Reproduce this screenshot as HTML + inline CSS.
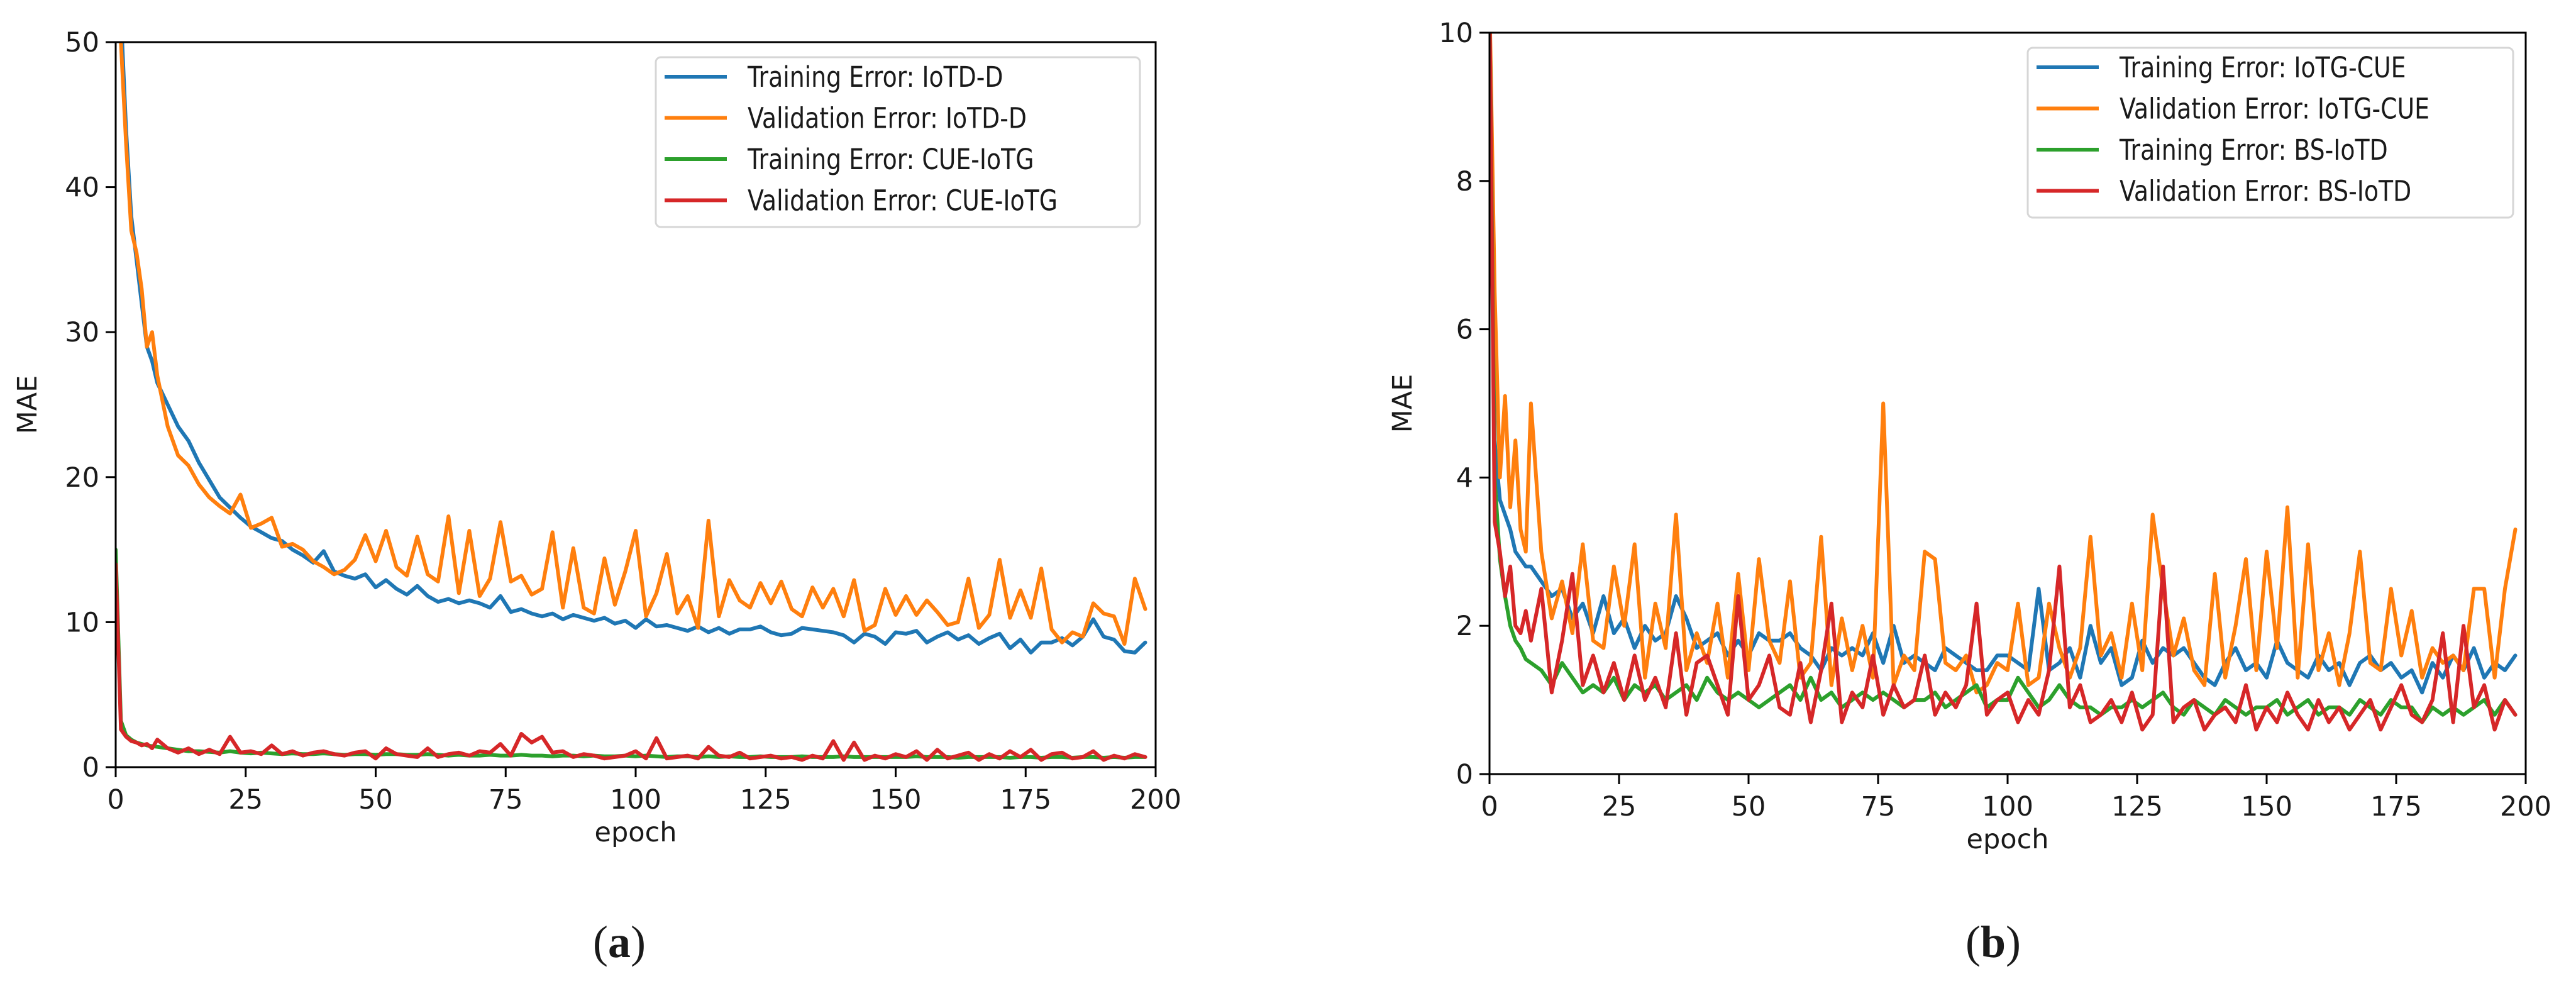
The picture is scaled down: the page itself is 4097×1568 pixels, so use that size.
<!DOCTYPE html>
<html><head><meta charset="utf-8">
<style>
html,body{margin:0;padding:0;background:#fff;}
svg{display:block;}
text{font-family:"DejaVu Sans","Liberation Sans",sans-serif;fill:#1a1a1a;}
.cap{font-family:"Liberation Serif","DejaVu Serif",serif;}
</style></head>
<body>
<svg id="root" width="4097" height="1568" viewBox="0 0 4097 1568" xmlns="http://www.w3.org/2000/svg">
<rect width="4097" height="1568" fill="#fff"/>
<text class="cap" x="985" y="1522" font-size="72" text-anchor="middle">(<tspan font-weight="bold">a</tspan>)</text>
<text class="cap" x="3170" y="1522" font-size="72" text-anchor="middle">(<tspan font-weight="bold">b</tspan>)</text>
</svg>
<script>
// shared epoch categories
const epochs=[0,1,2,3,4,5,6,7,8];
for(let e=10;e<200;e+=2) epochs.push(e);
const xTicks=[0,25,50,75,100,125,150,175,200];
const yTicksA=[0,10,20,30,40,50];
const yTicksB=[0,2,4,6,8,10];

// plot (a)
const aTrainD=[62,52,44,38,35,32,29,28,26.5,
25,23.5,22.5,21,19.8,18.6,17.9,17.2,16.6,16.2,
15.8,15.6,15,14.6,14.1,14.9,13.5,13.2,13.0,13.3,
12.4,12.9,12.3,11.9,12.5,11.8,11.4,11.6,11.3,11.5,
11.3,11.0,11.8,10.7,10.9,10.6,10.4,10.6,10.2,10.5,
10.3,10.1,10.3,9.9,10.1,9.6,10.2,9.7,9.8,9.6,
9.4,9.7,9.3,9.6,9.2,9.5,9.5,9.7,9.3,9.1,
9.2,9.6,9.5,9.4,9.3,9.1,8.6,9.2,9.0,8.5,
9.3,9.2,9.4,8.6,9.0,9.3,8.8,9.1,8.5,8.9,
9.2,8.2,8.8,7.9,8.6,8.6,8.9,8.4,9.0,10.2,
9.0,8.8,8.0,7.9,8.6];
const aValD=[60,50,43,37,35.5,33,29,30,27,
23.5,21.5,20.8,19.5,18.6,18.0,17.5,18.8,16.5,16.8,
17.2,15.2,15.4,15.0,14.2,13.8,13.3,13.6,14.3,16.0,
14.2,16.3,13.8,13.2,15.9,13.3,12.8,17.3,12.0,16.3,
11.8,13.0,16.9,12.8,13.2,11.9,12.3,16.2,11.0,15.1,
11.0,10.6,14.4,11.2,13.5,16.3,10.4,12.0,14.7,10.6,
11.8,9.6,17.0,10.4,12.9,11.5,11.0,12.7,11.3,12.8,
10.9,10.4,12.4,11.0,12.3,10.4,12.9,9.4,9.8,12.3,
10.5,11.8,10.5,11.5,10.7,9.8,10.0,13.0,9.6,10.5,
14.3,10.3,12.2,10.3,13.7,9.5,8.6,9.3,9.0,11.3,
10.6,10.4,8.5,13.0,10.9];
const aTrainG=[15,3.2,2.2,1.9,1.7,1.6,1.5,1.45,1.4,
1.3,1.2,1.1,1.1,1.05,1.0,1.1,1.0,0.95,1.0,
0.95,0.9,0.95,0.9,0.9,0.95,0.9,0.85,0.9,0.9,
0.85,0.9,0.9,0.85,0.85,0.9,0.85,0.8,0.85,0.8,
0.8,0.85,0.8,0.8,0.85,0.8,0.8,0.75,0.8,0.8,
0.75,0.8,0.75,0.75,0.8,0.75,0.8,0.75,0.7,0.75,
0.75,0.7,0.75,0.7,0.75,0.7,0.7,0.75,0.7,0.7,
0.7,0.75,0.7,0.7,0.7,0.75,0.7,0.7,0.7,0.7,
0.7,0.7,0.75,0.7,0.7,0.7,0.65,0.7,0.7,0.7,
0.7,0.65,0.7,0.7,0.65,0.7,0.7,0.65,0.7,0.7,
0.65,0.7,0.65,0.7,0.7];
const aValG=[14,2.6,2.1,1.8,1.7,1.5,1.6,1.3,1.9,
1.3,1.0,1.3,0.9,1.2,0.9,2.1,1.0,1.1,0.9,
1.5,0.9,1.1,0.8,1.0,1.1,0.9,0.8,1.0,1.1,
0.6,1.3,0.9,0.8,0.7,1.3,0.7,0.9,1.0,0.8,
1.1,1.0,1.6,0.8,2.3,1.7,2.1,1.0,1.1,0.7,
0.9,0.8,0.6,0.7,0.8,1.1,0.6,2.0,0.6,0.7,
0.8,0.6,1.4,0.8,0.7,1.0,0.6,0.7,0.8,0.6,
0.7,0.5,0.8,0.6,1.8,0.5,1.7,0.5,0.8,0.6,
0.9,0.7,1.1,0.5,1.2,0.6,0.8,1.0,0.5,0.9,
0.6,1.1,0.7,1.2,0.5,0.9,1.0,0.6,0.7,1.1,
0.5,0.8,0.6,0.9,0.7];

// plot (b)
const bTrainC=[10.5,4.5,3.7,3.5,3.3,3.0,2.9,2.8,2.8,
2.6,2.4,2.5,2.1,2.3,1.9,2.4,1.9,2.1,1.7,
2.0,1.8,1.9,2.4,2.1,1.7,1.8,1.9,1.6,1.8,
1.6,1.9,1.8,1.8,1.9,1.7,1.6,1.4,1.7,1.6,
1.7,1.6,1.9,1.5,2.0,1.5,1.6,1.5,1.4,1.7,
1.6,1.5,1.4,1.4,1.6,1.6,1.5,1.4,2.5,1.4,
1.5,1.7,1.3,2.0,1.5,1.7,1.2,1.3,1.8,1.5,
1.7,1.6,1.7,1.5,1.3,1.2,1.5,1.7,1.4,1.5,
1.3,1.8,1.5,1.4,1.3,1.6,1.4,1.5,1.2,1.5,
1.6,1.4,1.5,1.3,1.4,1.1,1.5,1.3,1.6,1.4,
1.7,1.3,1.5,1.4,1.6];
const bValC=[10.5,6.5,4.0,5.1,3.6,4.5,3.3,3.0,5.0,
3.0,2.1,2.6,1.9,3.1,1.8,1.7,2.8,2.0,3.1,
1.3,2.3,1.7,3.5,1.4,1.9,1.5,2.3,1.3,2.7,
1.4,2.9,1.8,1.5,2.6,1.3,1.5,3.2,1.2,2.1,
1.4,2.0,1.3,5.0,1.2,1.6,1.4,3.0,2.9,1.5,
1.4,1.6,1.1,1.2,1.5,1.4,2.3,1.2,1.3,2.3,
1.7,1.3,1.7,3.2,1.6,1.9,1.3,2.3,1.4,3.5,
2.5,1.6,2.1,1.4,1.2,2.7,1.3,2.0,2.9,1.4,
3.0,1.7,3.6,1.3,3.1,1.4,1.9,1.2,1.9,3.0,
1.5,1.4,2.5,1.6,2.2,1.3,1.7,1.5,1.6,1.4,
2.5,2.5,1.3,2.5,3.3];
const bTrainB=[10.5,4.0,2.9,2.4,2.0,1.8,1.7,1.55,1.5,
1.4,1.2,1.5,1.3,1.1,1.2,1.1,1.3,1.0,1.2,
1.1,1.2,1.0,1.1,1.2,1.0,1.3,1.1,1.0,1.1,
1.0,0.9,1.0,1.1,1.2,1.0,1.3,1.0,1.1,0.9,
1.0,1.1,1.0,1.1,1.0,0.9,1.0,1.0,1.1,0.9,
1.0,1.1,1.2,0.9,1.0,1.0,1.3,1.1,0.9,1.0,
1.2,1.0,0.9,0.9,0.8,0.9,0.9,1.0,0.9,1.0,
1.1,0.9,0.8,1.0,0.9,0.8,1.0,0.9,0.8,0.9,
0.9,1.0,0.8,0.9,1.0,0.8,0.9,0.9,0.8,1.0,
0.9,0.8,1.0,0.9,0.9,0.7,0.9,0.8,0.9,0.8,
0.9,1.0,0.8,1.0,0.8];
const bValB=[10.5,3.4,3.0,2.4,2.8,2.0,1.9,2.2,1.8,
2.5,1.1,1.8,2.7,1.2,1.6,1.1,1.5,1.0,1.6,
1.0,1.3,0.9,1.9,0.8,1.5,1.6,1.2,0.8,2.4,
1.0,1.2,1.6,0.9,0.8,1.5,0.7,1.4,2.3,0.7,
1.1,0.9,1.6,0.8,1.2,0.9,1.0,1.6,0.8,1.1,
0.9,1.2,2.3,0.8,1.0,1.1,0.7,1.0,0.8,1.4,
2.8,0.9,1.2,0.7,0.8,1.0,0.7,1.1,0.6,0.8,
2.8,0.7,0.9,1.0,0.6,0.8,0.9,0.7,1.2,0.6,
0.9,0.7,1.1,0.8,0.6,1.0,0.7,0.9,0.6,0.8,
1.0,0.6,0.9,1.2,0.8,0.7,1.0,1.9,0.7,2.0,
0.9,1.2,0.6,1.0,0.8];

const legendA=["Training Error: IoTD-D","Validation Error: IoTD-D","Training Error: CUE-IoTG","Validation Error: CUE-IoTG"];
const legendB=["Training Error: IoTG-CUE","Validation Error: IoTG-CUE","Training Error: BS-IoTD","Validation Error: BS-IoTD"];
const colors=["#1f77b4","#ff7f0e","#2ca02c","#d62728"];

const NS="http://www.w3.org/2000/svg";
const root=document.getElementById('root');
function mk(tag,parent){const e=document.createElementNS(NS,tag);parent.appendChild(e);return e;}

function drawPlot(cfg){
  const g=mk('g',root);
  
  
  const sx=v=>cfg.x0+(v-0)/(200-0)*(cfg.x1-cfg.x0);
  const sy=v=>cfg.y0-(v-0)/(cfg.ymax-0)*(cfg.y0-cfg.y1);
  const cid='clip-'+cfg.name;
  const defs=mk('defs',g);
  const cp=mk('clipPath',defs);cp.setAttribute('id',cid);
  const cr=mk('rect',cp);cr.setAttribute('x',cfg.x0);cr.setAttribute('y',cfg.y1);cr.setAttribute('width',cfg.x1-cfg.x0);cr.setAttribute('height',cfg.y0-cfg.y1);
  const sg=mk('g',g);sg.setAttribute('clip-path','url(#'+cid+')');
  cfg.series.forEach((s,i)=>{
    const p=mk('polyline',sg);
    
    
    p.setAttribute('points',s.map((v,k)=>sx(epochs[k]).toFixed(1)+','+sy(v).toFixed(1)).join(' '));
    p.setAttribute('fill','none');p.setAttribute('stroke',colors[i]);p.setAttribute('stroke-width','6');
    p.setAttribute('stroke-linejoin','round');p.setAttribute('stroke-linecap','round');
  });
  const fr=mk('rect',g);
  
  
  fr.setAttribute('x',cfg.x0);fr.setAttribute('y',cfg.y1);fr.setAttribute('width',cfg.x1-cfg.x0);fr.setAttribute('height',cfg.y0-cfg.y1);
  fr.setAttribute('fill','none');fr.setAttribute('stroke','#000');fr.setAttribute('stroke-width','3');
  xTicks.forEach(t=>{
    const l=mk('line',g);l.setAttribute('x1',sx(t));l.setAttribute('x2',sx(t));l.setAttribute('y1',cfg.y0);l.setAttribute('y2',cfg.y0+16);
    l.setAttribute('stroke','#000');l.setAttribute('stroke-width','3');
    const tx=mk('text',g);
    
    
    tx.setAttribute('x',sx(t));tx.setAttribute('y',cfg.y0+66);tx.setAttribute('font-size','43');tx.setAttribute('text-anchor','middle');
    tx.textContent=t;
  });
  cfg.yTicks.forEach(t=>{
    const l=mk('line',g);l.setAttribute('x1',cfg.x0-16);l.setAttribute('x2',cfg.x0);l.setAttribute('y1',sy(t));l.setAttribute('y2',sy(t));
    l.setAttribute('stroke','#000');l.setAttribute('stroke-width','3');
    const tx=mk('text',g);
    
    
    tx.setAttribute('x',cfg.x0-26);tx.setAttribute('y',sy(t)+15);tx.setAttribute('font-size','43');tx.setAttribute('text-anchor','end');
    tx.textContent=t;
  });
  const xt=mk('text',g);
  
  
  xt.setAttribute('x',(cfg.x0+cfg.x1)/2);xt.setAttribute('y',cfg.y0+118);xt.setAttribute('font-size','43');xt.setAttribute('text-anchor','middle');
  xt.textContent='epoch';
  const yt=mk('text',g);
  
  
  const yc=(cfg.y0+cfg.y1)/2;
  yt.setAttribute('transform','translate('+cfg.ytx+','+yc+') rotate(-90)');yt.setAttribute('font-size','43');yt.setAttribute('text-anchor','middle');
  yt.textContent='MAE';
  const lg=mk('g',g);
  
  
  const lb=mk('rect',lg);
  lb.setAttribute('x',cfg.lx);lb.setAttribute('y',cfg.ly);lb.setAttribute('width',cfg.lw);lb.setAttribute('height',270);
  lb.setAttribute('rx','8');lb.setAttribute('fill','#fff');lb.setAttribute('fill-opacity','0.85');lb.setAttribute('stroke','#d6d6d6');lb.setAttribute('stroke-width','3');
  cfg.labels.forEach((lab,i)=>{
    const ry=cfg.ly+31+i*65.5;
    const e=mk('g',lg);
    
    
    const l=mk('line',e);l.setAttribute('x1',cfg.lx+14);l.setAttribute('x2',cfg.lx+113);l.setAttribute('y1',ry);l.setAttribute('y2',ry);
    l.setAttribute('stroke',colors[i]);l.setAttribute('stroke-width','6');
    const t=mk('text',e);
    t.setAttribute('transform','translate('+(cfg.lx+146)+','+(ry+16)+') scale(0.84,1)');
    t.setAttribute('font-size','45');
    t.textContent=lab;
  });
}

drawPlot({name:'plot-a',x0:184,x1:1838,y0:1220,y1:67,ymax:50,yTicks:yTicksA,ytx:58,
  series:[aTrainD,aValD,aTrainG,aValG],
  seriesNames:['line-training-iotd-d','line-validation-iotd-d','line-training-cue-iotg','line-validation-cue-iotg'],
  labels:legendA,lx:1043,ly:91,lw:770});
drawPlot({name:'plot-b',x0:2369,x1:4017,y0:1231,y1:52,ymax:10,yTicks:yTicksB,ytx:2245,
  series:[bTrainC,bValC,bTrainB,bValB],
  seriesNames:['line-training-iotg-cue','line-validation-iotg-cue','line-training-bs-iotd','line-validation-bs-iotd'],
  labels:legendB,lx:3225,ly:76,lw:772});
</script>
</body></html>
